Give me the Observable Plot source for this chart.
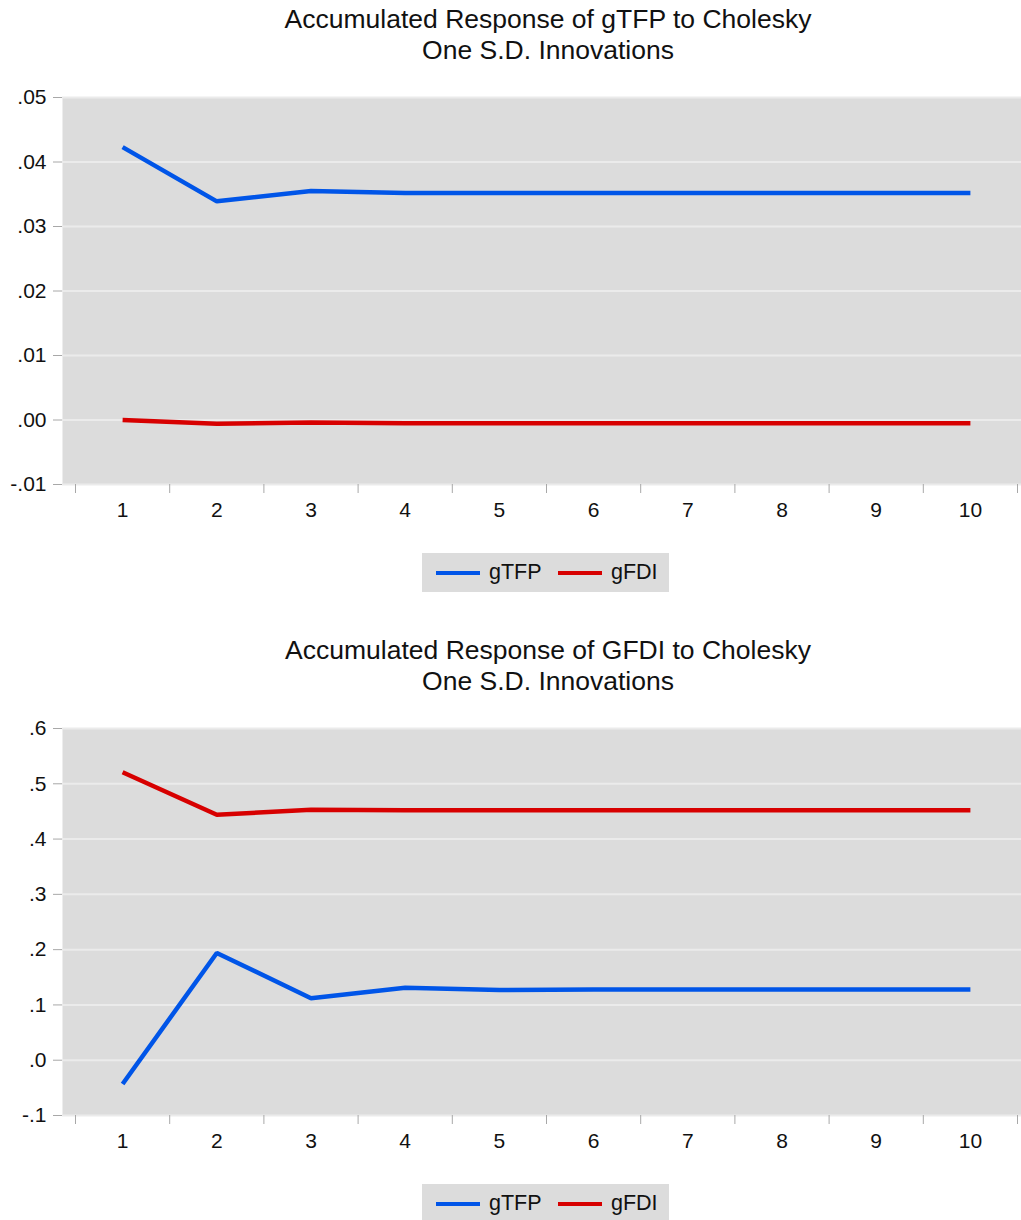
<!DOCTYPE html>
<html>
<head>
<meta charset="utf-8">
<script src="https://cdn.jsdelivr.net/npm/d3@7"></script>
<script src="https://cdn.jsdelivr.net/npm/@observablehq/plot@0.6"></script>
<style>
  html, body { margin: 0; padding: 0; background: #fff; }
  body { font-family: "Liberation Sans", Arial, Helvetica, sans-serif; color: #111; }
  #root { position: relative; width: 1021px; height: 1220px; overflow: hidden; }
  .block { position: absolute; left: 0; width: 1021px; height: 631px; }
  .title { position: absolute; left: 75px; width: 946px; top: 4px; text-align: center; font-size: 26.5px; line-height: 31px; }
  .legend { position: absolute; left: 422px; top: 553px; width: 247px; height: 39px; background: #dcdcdc; font-size: 21.5px; }
  .legend .sw { position: absolute; top: 18px; width: 44px; height: 4px; }
  .legend .lb { position: absolute; top: 6px; line-height: 26px; }
</style>
</head>
<body>
<div id="root"></div>
<script>
// ---- data ----
const periods = [1, 2, 3, 4, 5, 6, 7, 8, 9, 10];
const seriesNames = ["gTFP", "gFDI"];
const seriesColors = ["#0055e8", "#d70000"];

const titles1 = ["Accumulated Response of gTFP to Cholesky", "One S.D. Innovations"];
const top_gTFP = [0.0423, 0.0339, 0.0355, 0.0352, 0.0352, 0.0352, 0.0352, 0.0352, 0.0352, 0.0352];
const top_gFDI = [0.0000, -0.0006, -0.0004, -0.0005, -0.0005, -0.0005, -0.0005, -0.0005, -0.0005, -0.0005];
const yTicks1 = [-0.01, 0.00, 0.01, 0.02, 0.03, 0.04, 0.05];
const yLabels1 = ["-.01", ".00", ".01", ".02", ".03", ".04", ".05"];

const titles2 = ["Accumulated Response of GFDI to Cholesky", "One S.D. Innovations"];
const bot_gTFP = [-0.043, 0.194, 0.112, 0.131, 0.127, 0.128, 0.128, 0.128, 0.128, 0.128];
const bot_gFDI = [0.521, 0.444, 0.453, 0.452, 0.452, 0.452, 0.452, 0.452, 0.452, 0.452];
const yTicks2 = [-0.1, 0.0, 0.1, 0.2, 0.3, 0.4, 0.5, 0.6];
const yLabels2 = ["-.1", ".0", ".1", ".2", ".3", ".4", ".5", ".6"];

const xBounds = [0.5, 1.5, 2.5, 3.5, 4.5, 5.5, 6.5, 7.5, 8.5, 9.5, 10.5];

function makeBlock(topPx, titles, s1, s2, yTicks, yLabels) {
  const root = document.getElementById("root");
  const block = document.createElement("div");
  block.className = "block";
  block.style.top = topPx + "px";
  root.appendChild(block);

  const t = document.createElement("div");
  t.className = "title";
  t.innerHTML = titles.map(s => `<div>${s}</div>`).join("");
  block.appendChild(t);

  const rows = [];
  [s1, s2].forEach((vals, k) => {
    periods.forEach((p, i) => rows.push({period: p, value: vals[i], series: seriesNames[k]}));
  });
  const labelOf = new Map(yTicks.map((v, i) => [v, yLabels[i]]));

  const chart = Plot.plot({
    width: 1021,
    height: 460,
    marginLeft: 62,
    marginRight: 0,
    marginTop: 27,
    marginBottom: 46,
    style: {fontFamily: '"Liberation Sans", Arial, Helvetica, sans-serif', fontSize: "21px", color: "#111", background: "transparent"},
    x: {type: "linear", domain: [0.5, 10.5], range: [75, 1017], label: null},
    y: {domain: [yTicks[0], yTicks[yTicks.length - 1]], label: null},
    color: {domain: seriesNames, range: seriesColors},
    marks: [
      Plot.frame({fill: "#dcdcdc", stroke: "none"}),
      Plot.gridY(yTicks, {stroke: "#ebebeb", strokeOpacity: 1, strokeWidth: 2}),
      Plot.axisY(yTicks, {tickSize: 9, tickPadding: 7, stroke: "#a8a8a8", fill: "#111",
        tickFormat: d => labelOf.get(d), fontSize: 21, label: null}),
      Plot.axisX(xBounds, {tickSize: 9, stroke: "#a8a8a8", tickFormat: () => "", label: null}),
      Plot.axisX(periods, {tickSize: 0, tickPadding: 18, fill: "#111", tickFormat: d => String(d), fontSize: 21, label: null}),
      Plot.lineY(rows, {x: "period", y: "value", z: "series", stroke: "series",
        strokeWidth: 4.5, strokeLinecap: "butt", strokeLinejoin: "miter"})
    ]
  });
  chart.style.position = "absolute";
  chart.style.top = "70px";
  chart.style.left = "0px";
  block.appendChild(chart);

  const lg = document.createElement("div");
  lg.className = "legend";
  lg.innerHTML =
    `<div class="sw" style="left:14px;background:${seriesColors[0]}"></div>` +
    `<div class="lb" style="left:67px">${seriesNames[0]}</div>` +
    `<div class="sw" style="left:136px;background:${seriesColors[1]}"></div>` +
    `<div class="lb" style="left:189px">${seriesNames[1]}</div>`;
  block.appendChild(lg);
}

makeBlock(0, titles1, top_gTFP, top_gFDI, yTicks1, yLabels1);
makeBlock(631, titles2, bot_gTFP, bot_gFDI, yTicks2, yLabels2);
</script>
</body>
</html>
